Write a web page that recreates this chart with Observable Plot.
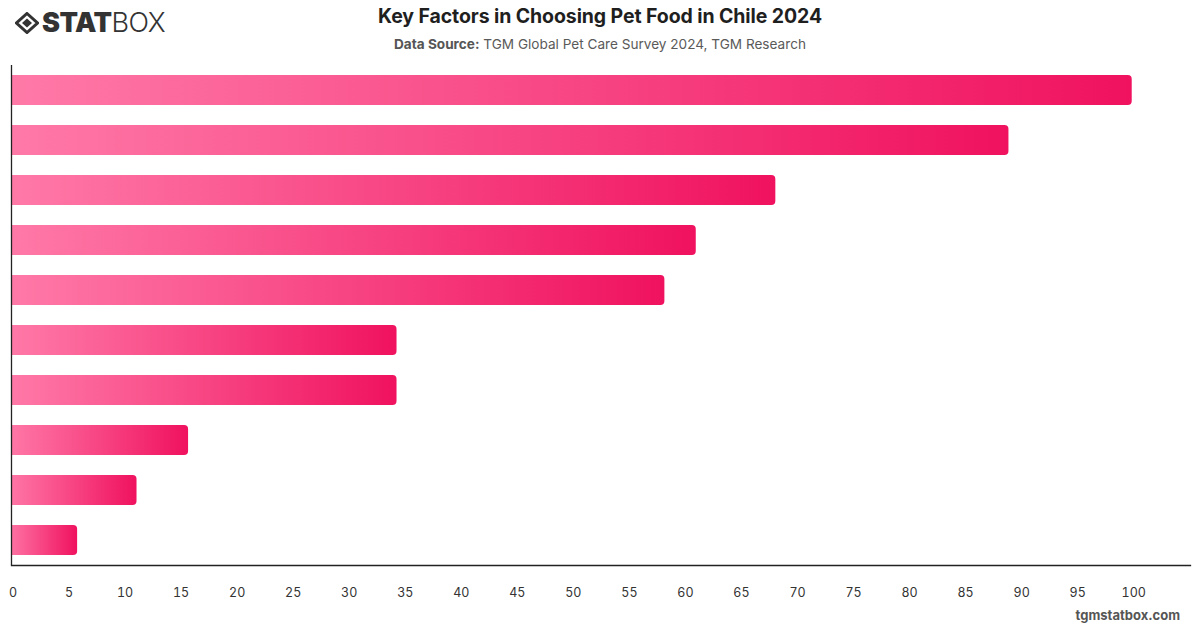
<!DOCTYPE html>
<html>
<head>
<meta charset="utf-8">
<script src="https://cdn.jsdelivr.net/npm/d3@7"></script>
<script src="https://cdn.jsdelivr.net/npm/@observablehq/plot@0.6"></script>
<style>
  html, body { margin: 0; padding: 0; background: #fff; }
  body { font-family: Inter, "Helvetica Neue", Arial, sans-serif; }
  #page { position: relative; width: 1200px; height: 628px; overflow: hidden; }
  #header { position: relative; height: 60px; }
  #title { position: absolute; left: 0; right: 0; top: 4px; text-align: center; font-size: 19.5px; font-weight: 700; color: #1f1f1f; letter-spacing: -0.1px; }
  #subtitle { position: absolute; left: 0; right: 0; top: 36px; text-align: center; font-size: 13.6px; color: #5a5a5a; }
  #subtitle b { font-weight: 700; color: #555; }
  #logo { position: absolute; left: 15px; top: 9px; display: flex; align-items: center; }
  #logo .txt { font-size: 27px; color: #333; margin-left: 3px; line-height: 1; letter-spacing: -0.5px; }
  #logo .s1 { font-weight: 900; }
  #logo .s2 { font-weight: 300; }
  #chart { position: absolute; left: 0; top: 60px; }
  #footer { position: absolute; right: 20px; top: 607px; font-size: 13px; font-weight: 700; color: #555; }
</style>
</head>
<body>
<div id="page">
  <div id="header">
    <div id="logo">
      <svg width="24" height="22" viewBox="0 0 24 22">
        <path d="M12 1.5 L22.5 11 L12 20.5 L1.5 11 Z" fill="none" stroke="#333" stroke-width="3"/>
        <path d="M12 6.5 L17 11 L12 15.5 L7 11 Z" fill="#333"/>
      </svg>
      <span class="txt"><span class="s1">STAT</span><span class="s2">BOX</span></span>
    </div>
    <div id="title">Key Factors in Choosing Pet Food in Chile 2024</div>
    <div id="subtitle"><b>Data Source:</b> TGM Global Pet Care Survey 2024, TGM Research</div>
  </div>
  <div id="chart"></div>
  <div id="footer">tgmstatbox.com</div>
</div>
<script>
// Data (category labels are not shown in the reference)
const categories = ["Factor 1", "Factor 2", "Factor 3", "Factor 4", "Factor 5",
                    "Factor 6", "Factor 7", "Factor 8", "Factor 9", "Factor 10"];
const values = [100, 89.0, 68.2, 61.1, 58.3, 34.4, 34.4, 15.8, 11.2, 5.9];
const xTicks = [0, 5, 10, 15, 20, 25, 30, 35, 40, 45, 50, 55, 60, 65, 70, 75, 80, 85, 90, 95, 100];

const data = categories.map((c, i) => ({category: c, value: values[i]}));

const gradientDefs = () => {
  const defs = d3.create("svg:defs");
  const g = defs.append("linearGradient")
    .attr("id", "barGrad").attr("x1", "0").attr("x2", "1").attr("y1", "0").attr("y2", "0");
  g.append("stop").attr("offset", "0%").attr("stop-color", "#ff7aa8");
  g.append("stop").attr("offset", "100%").attr("stop-color", "#f0125f");
  return defs.node();
};

const chart = Plot.plot({
  width: 1200,
  height: 568,
  marginTop: 5,
  marginBottom: 63,
  marginLeft: 11,
  marginRight: 10,
  style: {fontFamily: "Inter, 'Helvetica Neue', Arial, sans-serif", background: "transparent"},
  x: {domain: [0, 105.2], axis: null},
  y: {domain: categories, paddingInner: 0.4, paddingOuter: 0.2, axis: null},
  marks: [
    gradientDefs,
    Plot.barX(data, {y: "category", x: "value", fill: "url(#barGrad)", rx: 4, insetLeft: -6, clip: true}),
    Plot.axisX({ticks: xTicks, tickSize: 0, tickPadding: 23, fontSize: 12.5, fill: "#333", anchor: "bottom", label: null, dx: 1.5}),
    Plot.frame({anchor: "bottom", stroke: "#222", strokeWidth: 1.3}),
    Plot.ruleX([0], {stroke: "#222", strokeWidth: 1.3})
  ]
});
document.getElementById("chart").appendChild(chart);
</script>
</body>
</html>
